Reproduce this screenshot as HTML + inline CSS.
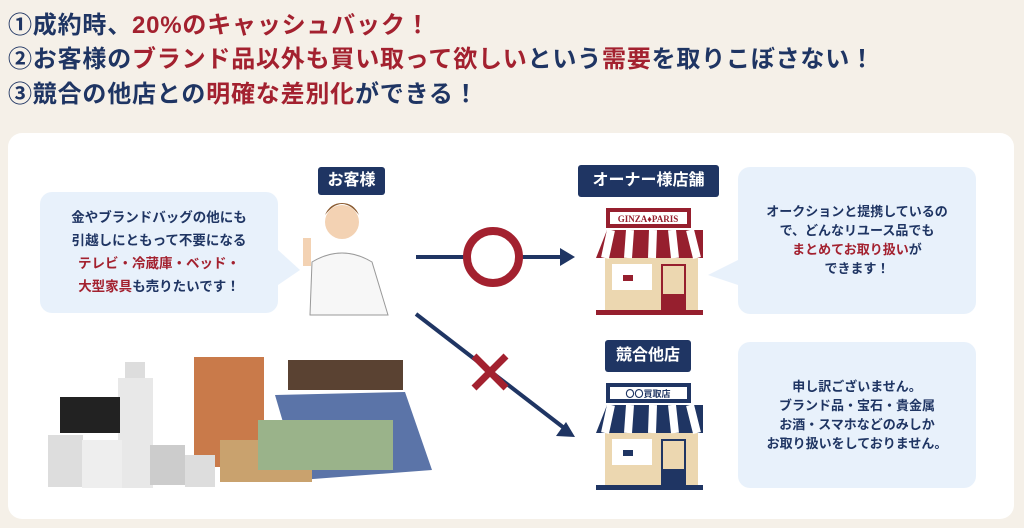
<!DOCTYPE html>
<html><head><meta charset="utf-8"><style>
body{margin:0;width:1024px;height:528px;background:#f5f0e8;font-family:"Liberation Sans","Noto Sans CJK JP",sans-serif;font-weight:bold;position:relative;overflow:hidden}
.t{position:absolute;left:8px;font-size:24px;color:#1f3563;white-space:nowrap;letter-spacing:0.8px}
.r{color:#a3212f}
.panel{position:absolute;left:8px;top:133px;width:1006px;height:386px;background:#fff;border-radius:14px}
.bub{position:absolute;background:#e8f1fb;border-radius:12px;text-align:center;color:#1f3563;font-size:13.5px;line-height:23px;box-sizing:border-box}
.lab{position:absolute;background:#1f3563;color:#fff;border-radius:3px;text-align:center;font-size:16px}
</style></head><body>
<div class="t" style="top:5px">①成約時、<span class="r">20%のキャッシュバック！</span></div>
<div class="t" style="top:39px">②お客様の<span class="r">ブランド品以外も買い取って欲しい</span>という<span class="r">需要</span>を取りこぼさない！</div>
<div class="t" style="top:74px">③競合の他店との<span class="r">明確な差別化</span>ができる！</div>
<div class="panel"></div>
<div class="bub" style="left:40px;top:192px;width:238px;height:121px;padding-top:14px">金やブランドバッグの他にも<br>引越しにともって不要になる<br><span class="r">テレビ・冷蔵庫・ベッド・</span><br><span class="r">大型家具</span>も売りたいです！</div>
<svg style="position:absolute;left:0;top:0" width="1024" height="528">
<polygon points="278,250 300,270 278,285" fill="#e8f1fb"/>
<polygon points="738,260 708,275 738,285" fill="#e8f1fb"/>
<!-- person -->
<circle cx="342" cy="222" r="17" fill="#f3d2b3"/><path d="M325,215 q17,-22 34,0 q-5,-12 -17,-12 q-12,0 -17,12z" fill="#8a5a2f"/>
<path d="M310,315 L312,262 q30,-18 60,0 L388,315z" fill="#f7f7f7" stroke="#999" stroke-width="1"/>
<rect x="303" y="238" width="8" height="28" fill="#f3d2b3"/>
<!-- arrows -->
<line x1="416" y1="257" x2="568" y2="257" stroke="#1f3563" stroke-width="4"/>
<polygon points="575,257 560,248 560,266" fill="#1f3563"/>
<circle cx="493" cy="257" r="26" fill="#fff" stroke="#a3212f" stroke-width="8"/>
<line x1="416" y1="314" x2="568" y2="431" stroke="#1f3563" stroke-width="4"/>
<polygon points="575,437 556,436 566,422" fill="#1f3563"/>
<path d="M474,356 L506,388 M506,356 L474,388" stroke="#a3212f" stroke-width="7"/>
<!-- store 1 -->
<rect x="605" y="255" width="93" height="55" fill="#ecd7b0"/>
<rect x="606" y="208" width="85" height="20" fill="#961f2e"/><rect x="610" y="212" width="77" height="12" fill="#fff"/>
<text x="648" y="222" font-size="9" fill="#961f2e" text-anchor="middle" font-family="Liberation Serif">GINZA♦PARIS</text>
<path d="M596,258 L607,230 L703,230 L703,258z" fill="#961f2e"/>
<path d="M611,230 L605,258 M630,230 L628,258 M652,258 L653,230 M675,258 L672,230 M697,258 L690,230" stroke="#fff" stroke-width="8"/>
<rect x="612" y="264" width="40" height="26" fill="#fff"/><rect x="623" y="275" width="10" height="6" fill="#961f2e"/>
<rect x="661" y="264" width="25" height="46" fill="#961f2e"/><rect x="663" y="266" width="21" height="28" fill="#ecd7b0"/>
<rect x="596" y="310" width="107" height="5" fill="#961f2e"/>
<!-- store 2 -->
<rect x="605" y="430" width="93" height="55" fill="#ecd7b0"/>
<rect x="606" y="383" width="85" height="20" fill="#1f3563"/><rect x="610" y="387" width="77" height="12" fill="#fff"/>
<text x="648" y="397" font-size="9" fill="#1f3563" text-anchor="middle">〇〇買取店</text>
<path d="M596,433 L607,405 L703,405 L703,433z" fill="#1f3563"/>
<path d="M611,405 L605,433 M630,405 L628,433 M652,433 L653,405 M675,433 L672,405 M697,433 L690,405" stroke="#fff" stroke-width="8"/>
<rect x="612" y="439" width="40" height="26" fill="#fff"/><rect x="623" y="450" width="10" height="6" fill="#1f3563"/>
<rect x="661" y="439" width="25" height="46" fill="#1f3563"/><rect x="663" y="441" width="21" height="28" fill="#ecd7b0"/>
<rect x="596" y="485" width="107" height="5" fill="#1f3563"/>
<!-- furniture -->
<rect x="194" y="357" width="70" height="110" fill="#c97a4a"/>
<rect x="288" y="360" width="115" height="30" fill="#5a4232"/>
<path d="M275,395 L405,392 L432,470 L300,480z" fill="#5b74a8"/>
<rect x="220" y="440" width="92" height="42" fill="#c9a26e"/>
<rect x="258" y="420" width="135" height="50" fill="#9ab38a"/>
<rect x="118" y="378" width="35" height="110" fill="#e8e8e8"/>
<rect x="60" y="397" width="60" height="36" fill="#222"/>
<rect x="48" y="435" width="35" height="52" fill="#ddd"/>
<rect x="82" y="440" width="40" height="48" fill="#eee"/>
<rect x="150" y="445" width="35" height="40" fill="#ccc"/>
<rect x="185" y="455" width="30" height="32" fill="#ddd"/>
<rect x="125" y="362" width="20" height="16" fill="#ddd"/>
</svg>
<div class="lab" style="left:318px;top:167px;width:67px;height:28px;line-height:28px">お客様</div>
<div class="lab" style="left:578px;top:165px;width:141px;height:32px;line-height:32px">オーナー様店舗</div>
<div class="lab" style="left:605px;top:340px;width:86px;height:32px;line-height:32px">競合他店</div>
<div class="bub" style="left:738px;top:167px;width:238px;height:147px;line-height:19px;font-size:13px;padding-top:35px">オークションと提携しているの<br>で、どんなリユース品でも<br><span class="r">まとめてお取り扱い</span>が<br>できます！</div>
<div class="bub" style="left:738px;top:342px;width:238px;height:146px;line-height:19px;font-size:13px;padding-top:35px">申し訳ございません。<br>ブランド品・宝石・貴金属<br>お酒・スマホなどのみしか<br>お取り扱いをしておりません。</div>
</body></html>
